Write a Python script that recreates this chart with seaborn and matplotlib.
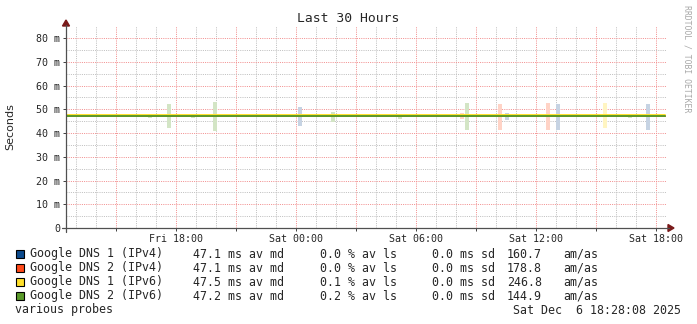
import matplotlib
matplotlib.use("Agg")
import matplotlib.pyplot as plt
from matplotlib.patches import Rectangle, Polygon
from matplotlib.lines import Line2D
from matplotlib.ticker import FixedLocator
import seaborn as sns
import pandas as pd

# ---------------- data ----------------
series_names = ["Google DNS 1 (IPv4)", "Google DNS 2 (IPv4)",
                "Google DNS 1 (IPv6)", "Google DNS 2 (IPv6)"]
series_colors = ["#0C4A8C", "#FF4A1A", "#FFE02A", "#5A9A2A"]
smoke_colors = ["#C6D3E3", "#FFD3C6", "#FFF5C2", "#D3E5C5"]
median_ms = [47.1, 47.1, 47.5, 47.2]
loss_pct = [0.0, 0.0, 0.1, 0.2]
sd_ms = [0.0, 0.0, 0.0, 0.0]
am_as = [160.7, 178.8, 246.8, 144.9]

# time axis: hours relative to Sat 00:00
t_start = -11.533   # Fri 12:28
t_end = 18.467      # Sat 18:28

# smoke events (hour, series index, low ms, high ms)
smoke_hour = [-8.5, -7.3, -6.35, -5.15, -4.05, 0.2, 1.85, 5.2, 8.3, 8.55,
              10.2, 10.55, 12.6, 13.1, 15.45, 16.7, 17.6]
smoke_series = [3, 3, 3, 3, 3, 0, 3, 3, 1, 3, 1, 0, 1, 0, 2, 3, 0]
smoke_low = [46.6, 46.4, 42.1, 46.5, 40.8, 43.0, 44.6, 45.9, 46.0, 41.3,
             41.3, 45.5, 41.3, 41.3, 42.0, 46.5, 41.3]
smoke_high = [47.6, 47.9, 52.2, 47.8, 53.0, 51.0, 48.8, 48.0, 48.3, 52.6,
              52.2, 48.4, 52.6, 52.2, 52.6, 47.5, 52.2]

x_tick_pos = [-6, 0, 6, 12, 18]
x_tick_labels = ["Fri 18:00", "Sat 00:00", "Sat 06:00", "Sat 12:00", "Sat 18:00"]
y_tick_pos = [0, 10, 20, 30, 40, 50, 60, 70, 80]
y_tick_labels = ["0", "10 m", "20 m", "30 m", "40 m", "50 m", "60 m", "70 m", "80 m"]

title = "Last 30 Hours"
y_label = "Seconds"
footer_left = "various probes"
footer_right = "Sat Dec  6 18:28:08 2025"
watermark = "RRDTOOL / TOBI OETIKER"

# ---------------- figure ----------------
sns.set_theme(style="white")
plt.rcParams["font.family"] = ["DejaVu Sans Mono", "DejaVu Sans"]

W, H = 697, 324
fig = plt.figure(figsize=(W / 100, H / 100), dpi=100)
fig.patch.set_facecolor("white")


def fx(x):
    return x / W


def fy(y):
    return 1 - y / H


left_px, right_px, top_px, bot_px = 65.5, 665.5, 26.4, 228
ax = fig.add_axes([fx(left_px), fy(bot_px), (right_px - left_px) / W,
                   (bot_px - top_px) / H])
ax.set_facecolor("white")
ax.set_xlim(t_start, t_end)
ax.set_ylim(0, 84.9)
for s in ax.spines.values():
    s.set_visible(False)

# grid
major_x = [h for h in range(-9, 19, 3)]
minor_x = [h for h in range(-11, 19) if h % 3 != 0]
ax.xaxis.set_major_locator(FixedLocator(major_x))
ax.xaxis.set_minor_locator(FixedLocator(minor_x))
ax.set_xticklabels([x_tick_labels[x_tick_pos.index(h)] if h in x_tick_pos else ""
                    for h in major_x])
ax.yaxis.set_major_locator(FixedLocator(y_tick_pos))
ax.yaxis.set_minor_locator(FixedLocator([5, 15, 25, 35, 45, 55, 65, 75]))
ax.set_yticklabels(y_tick_labels)
ax.grid(which="major", color="#F29090", linestyle=(0, (1, 1.2)), linewidth=0.72)
ax.grid(which="minor", color="#C0C0C0", linestyle=(0, (1, 1.2)), linewidth=0.72)
ax.set_axisbelow(True)
ax.tick_params(which="major", direction="out", length=2.5, width=0.7,
               color="#404040", labelsize=7.2, pad=1.5, left=True, bottom=True)
ax.tick_params(which="minor", length=0)
ax.tick_params(axis="x", pad=1.5)

# smoke
ax.bar(smoke_hour, [h - l for h, l in zip(smoke_high, smoke_low)],
       bottom=smoke_low, width=0.2, color=[smoke_colors[i] for i in smoke_series],
       linewidth=0, align="center", zorder=2)

# median lines
rows = []
for name, m in zip(series_names, median_ms):
    rows.append({"series": name, "hour": t_start, "ms": m})
    rows.append({"series": name, "hour": t_end - 0.03, "ms": m})
df = pd.DataFrame(rows)
sns.lineplot(data=df, x="hour", y="ms", hue="series", hue_order=series_names,
             palette=dict(zip(series_names, series_colors)), legend=False,
             linewidth=1.4, ax=ax, zorder=3)
ax.set_xlabel("")
ax.set_ylabel("")

# axes lines with arrows
axis_col = "#505050"
arrow_col = "#7A1A1A"
fig.add_artist(Line2D([fx(62), fx(669)], [fy(228), fy(228)], color=axis_col,
                      lw=0.9, transform=fig.transFigure))
fig.add_artist(Line2D([fx(66), fx(66)], [fy(232), fy(25)], color=axis_col,
                      lw=0.9, transform=fig.transFigure))
fig.add_artist(Polygon([[fx(668), fy(224.5)], [fx(674), fy(228)], [fx(668), fy(231.5)]],
                       closed=True, color=arrow_col, transform=fig.transFigure))
fig.add_artist(Polygon([[fx(62.5), fy(26)], [fx(66), fy(20)], [fx(69.5), fy(26)]],
                       closed=True, color=arrow_col, transform=fig.transFigure))

# texts
fig.text(fx(348), fy(19), title, ha="center", va="center", fontsize=9.4)
fig.text(fx(10), fy(127), y_label, ha="center", va="center", rotation=90,
         fontsize=8, family="DejaVu Sans")
fig.text(fx(687), fy(59), watermark, ha="center", va="center", rotation=270,
         fontsize=5.9, color="#A8A8A8")

fs = 8.4
for i in range(4):
    yc = 254 + 14 * i
    fig.add_artist(Rectangle((fx(15.5), fy(yc + 4)), 8 / W, 8 / H,
                             facecolor=series_colors[i], edgecolor="black",
                             lw=0.8, transform=fig.transFigure))
    fig.text(fx(30), fy(yc), series_names[i], va="center", fontsize=fs)
    fig.text(fx(193), fy(yc), f"{median_ms[i]:.1f} ms av md", va="center", fontsize=fs)
    fig.text(fx(320), fy(yc), f"{loss_pct[i]:.1f} % av ls", va="center", fontsize=fs)
    fig.text(fx(432), fy(yc), f"{sd_ms[i]:.1f} ms sd", va="center", fontsize=fs)
    fig.text(fx(507), fy(yc), f"{am_as[i]:.1f}", va="center", fontsize=fs)
    fig.text(fx(563), fy(yc), "am/as", va="center", fontsize=fs)
fig.text(fx(15), fy(310), footer_left, va="center", fontsize=fs)
fig.text(fx(681), fy(310), footer_right, va="center", ha="right", fontsize=fs)

fig.savefig("out.png", dpi=100, facecolor="white")
